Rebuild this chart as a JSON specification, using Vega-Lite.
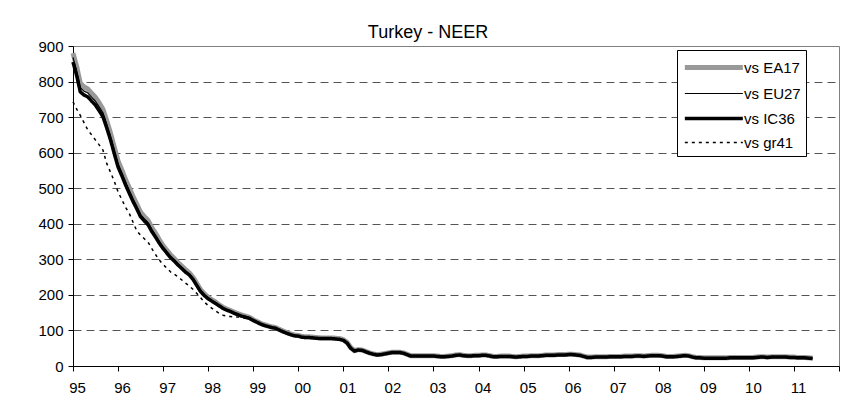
{
"$schema":"https://vega.github.io/schema/vega-lite/v6.json",
"autosize":{"type":"none"},
"width":766,"height":320,
"padding":{"left":73,"top":46,"right":17,"bottom":49},
"background":"white",
"title":{"text":"Turkey - NEER","font":"Liberation Sans","fontSize":18,"fontWeight":"normal","color":"black","anchor":"middle","dx":-28,"dy":7,"offset":4},
"data":{"values":[
{"d":"1995-01-01","EA17":880,"EU27":868,"IC36":855,"gr41":743},
{"d":"1995-02-01","EA17":840,"EU27":827,"IC36":815,"gr41":722},
{"d":"1995-03-01","EA17":795,"EU27":783,"IC36":771,"gr41":705},
{"d":"1995-04-01","EA17":785,"EU27":773,"IC36":762,"gr41":684},
{"d":"1995-05-01","EA17":779,"EU27":768,"IC36":757,"gr41":664},
{"d":"1995-06-01","EA17":767,"EU27":756,"IC36":745,"gr41":650},
{"d":"1995-07-01","EA17":756,"EU27":745,"IC36":734,"gr41":636},
{"d":"1995-08-01","EA17":740,"EU27":729,"IC36":718,"gr41":622},
{"d":"1995-09-01","EA17":722,"EU27":712,"IC36":701,"gr41":607},
{"d":"1995-10-01","EA17":690,"EU27":680,"IC36":670,"gr41":570},
{"d":"1995-11-01","EA17":655,"EU27":646,"IC36":636,"gr41":545},
{"d":"1995-12-01","EA17":616,"EU27":607,"IC36":598,"gr41":520},
{"d":"1996-01-01","EA17":577,"EU27":568,"IC36":560,"gr41":490},
{"d":"1996-02-01","EA17":551,"EU27":543,"IC36":535,"gr41":468},
{"d":"1996-03-01","EA17":525,"EU27":518,"IC36":510,"gr41":447},
{"d":"1996-04-01","EA17":501,"EU27":493,"IC36":486,"gr41":429},
{"d":"1996-05-01","EA17":477,"EU27":470,"IC36":463,"gr41":405},
{"d":"1996-06-01","EA17":455,"EU27":449,"IC36":442,"gr41":380},
{"d":"1996-07-01","EA17":433,"EU27":426,"IC36":420,"gr41":368},
{"d":"1996-08-01","EA17":420,"EU27":414,"IC36":408,"gr41":358},
{"d":"1996-09-01","EA17":409,"EU27":403,"IC36":397,"gr41":348},
{"d":"1996-10-01","EA17":389,"EU27":384,"IC36":378,"gr41":330},
{"d":"1996-11-01","EA17":373,"EU27":367,"IC36":362,"gr41":313},
{"d":"1996-12-01","EA17":355,"EU27":350,"IC36":345,"gr41":298},
{"d":"1997-01-01","EA17":338,"EU27":334,"IC36":330,"gr41":285},
{"d":"1997-02-01","EA17":325,"EU27":321,"IC36":317,"gr41":275},
{"d":"1997-03-01","EA17":313,"EU27":309,"IC36":305,"gr41":265},
{"d":"1997-04-01","EA17":302,"EU27":299,"IC36":295,"gr41":258},
{"d":"1997-05-01","EA17":291,"EU27":287,"IC36":284,"gr41":251},
{"d":"1997-06-01","EA17":281,"EU27":277,"IC36":274,"gr41":242},
{"d":"1997-07-01","EA17":271,"EU27":267,"IC36":264,"gr41":233},
{"d":"1997-08-01","EA17":262,"EU27":259,"IC36":256,"gr41":225},
{"d":"1997-09-01","EA17":249,"EU27":246,"IC36":243,"gr41":215},
{"d":"1997-10-01","EA17":232,"EU27":229,"IC36":226,"gr41":204},
{"d":"1997-11-01","EA17":214,"EU27":211,"IC36":209,"gr41":192},
{"d":"1997-12-01","EA17":203,"EU27":200,"IC36":198,"gr41":180},
{"d":"1998-01-01","EA17":193,"EU27":191,"IC36":189,"gr41":170},
{"d":"1998-02-01","EA17":186,"EU27":184,"IC36":182,"gr41":162},
{"d":"1998-03-01","EA17":180,"EU27":178,"IC36":176,"gr41":155},
{"d":"1998-04-01","EA17":172,"EU27":171,"IC36":169,"gr41":148},
{"d":"1998-05-01","EA17":165,"EU27":164,"IC36":162,"gr41":143},
{"d":"1998-06-01","EA17":160,"EU27":159,"IC36":157,"gr41":140},
{"d":"1998-07-01","EA17":156,"EU27":155,"IC36":153,"gr41":139},
{"d":"1998-08-01","EA17":151,"EU27":150,"IC36":148,"gr41":138},
{"d":"1998-09-01","EA17":147,"EU27":146,"IC36":144,"gr41":138},
{"d":"1998-10-01","EA17":143,"EU27":142,"IC36":140,"gr41":136},
{"d":"1998-11-01","EA17":140,"EU27":139,"IC36":137,"gr41":134},
{"d":"1998-12-01","EA17":137,"EU27":136,"IC36":134,"gr41":131},
{"d":"1999-01-01","EA17":130,"EU27":129,"IC36":128,"gr41":127},
{"d":"1999-02-01","EA17":125,"EU27":124,"IC36":123,"gr41":122},
{"d":"1999-03-01","EA17":120,"EU27":119,"IC36":118,"gr41":117},
{"d":"1999-04-01","EA17":116,"EU27":115,"IC36":114,"gr41":113},
{"d":"1999-05-01","EA17":113,"EU27":112,"IC36":111,"gr41":110},
{"d":"1999-06-01","EA17":110,"EU27":109,"IC36":108,"gr41":107},
{"d":"1999-07-01","EA17":108,"EU27":107,"IC36":106,"gr41":105},
{"d":"1999-08-01","EA17":103,"EU27":102,"IC36":101,"gr41":100},
{"d":"1999-09-01","EA17":98,"EU27":97,"IC36":96,"gr41":95},
{"d":"1999-10-01","EA17":94,"EU27":93,"IC36":92,"gr41":91},
{"d":"1999-11-01","EA17":90,"EU27":89,"IC36":88,"gr41":87},
{"d":"1999-12-01","EA17":87,"EU27":86,"IC36":85,"gr41":84},
{"d":"2000-01-01","EA17":86,"EU27":85,"IC36":84,"gr41":83},
{"d":"2000-02-01","EA17":83,"EU27":82,"IC36":81,"gr41":80},
{"d":"2000-03-01","EA17":82,"EU27":81,"IC36":80,"gr41":79},
{"d":"2000-04-01","EA17":82,"EU27":81,"IC36":80,"gr41":79},
{"d":"2000-05-01","EA17":81,"EU27":80,"IC36":79,"gr41":78},
{"d":"2000-06-01","EA17":80,"EU27":79,"IC36":78,"gr41":77},
{"d":"2000-07-01","EA17":79,"EU27":78,"IC36":77,"gr41":76},
{"d":"2000-08-01","EA17":79,"EU27":78,"IC36":77,"gr41":76},
{"d":"2000-09-01","EA17":79,"EU27":78,"IC36":77,"gr41":76},
{"d":"2000-10-01","EA17":79,"EU27":78,"IC36":77,"gr41":76},
{"d":"2000-11-01","EA17":78,"EU27":77,"IC36":76,"gr41":75},
{"d":"2000-12-01","EA17":77,"EU27":76,"IC36":75,"gr41":74},
{"d":"2001-01-01","EA17":74,"EU27":73,"IC36":72,"gr41":71},
{"d":"2001-02-01","EA17":66,"EU27":65,"IC36":64,"gr41":63},
{"d":"2001-03-01","EA17":52,"EU27":51,"IC36":50,"gr41":49},
{"d":"2001-04-01","EA17":43,"EU27":42.5,"IC36":42,"gr41":41.5},
{"d":"2001-05-01","EA17":46,"EU27":45.5,"IC36":45,"gr41":44.5},
{"d":"2001-06-01","EA17":45,"EU27":44.5,"IC36":44,"gr41":43.5},
{"d":"2001-07-01","EA17":41,"EU27":40.5,"IC36":40,"gr41":39.5},
{"d":"2001-08-01","EA17":37,"EU27":36.5,"IC36":36,"gr41":35.5},
{"d":"2001-09-01","EA17":34,"EU27":33.5,"IC36":33,"gr41":32.5},
{"d":"2001-10-01","EA17":32,"EU27":31.5,"IC36":31,"gr41":30.5},
{"d":"2001-11-01","EA17":33,"EU27":32.5,"IC36":32,"gr41":31.5},
{"d":"2001-12-01","EA17":35,"EU27":34.5,"IC36":34,"gr41":33.5},
{"d":"2002-01-01","EA17":37,"EU27":36.5,"IC36":36,"gr41":35.5},
{"d":"2002-02-01","EA17":39,"EU27":38.5,"IC36":38,"gr41":37.5},
{"d":"2002-03-01","EA17":39,"EU27":38.5,"IC36":38,"gr41":37.5},
{"d":"2002-04-01","EA17":39,"EU27":38.5,"IC36":38,"gr41":37.5},
{"d":"2002-05-01","EA17":37,"EU27":36.5,"IC36":36,"gr41":35.5},
{"d":"2002-06-01","EA17":33,"EU27":32.5,"IC36":32,"gr41":31.5},
{"d":"2002-07-01","EA17":29,"EU27":28.5,"IC36":28,"gr41":27.5},
{"d":"2002-08-01","EA17":29,"EU27":28.5,"IC36":28,"gr41":27.5},
{"d":"2002-09-01","EA17":29,"EU27":28.5,"IC36":28,"gr41":27.5},
{"d":"2002-10-01","EA17":29,"EU27":28.5,"IC36":28,"gr41":27.5},
{"d":"2002-11-01","EA17":29,"EU27":28.5,"IC36":28,"gr41":27.5},
{"d":"2002-12-01","EA17":29,"EU27":28.5,"IC36":28,"gr41":27.5},
{"d":"2003-01-01","EA17":29,"EU27":28.5,"IC36":28,"gr41":27.5},
{"d":"2003-02-01","EA17":28,"EU27":27.5,"IC36":27,"gr41":26.5},
{"d":"2003-03-01","EA17":27,"EU27":26.5,"IC36":26,"gr41":25.5},
{"d":"2003-04-01","EA17":27,"EU27":26.5,"IC36":26,"gr41":25.5},
{"d":"2003-05-01","EA17":28,"EU27":27.5,"IC36":27,"gr41":26.5},
{"d":"2003-06-01","EA17":29,"EU27":28.5,"IC36":28,"gr41":27.5},
{"d":"2003-07-01","EA17":31,"EU27":30.5,"IC36":30,"gr41":29.5},
{"d":"2003-08-01","EA17":32,"EU27":31.5,"IC36":31,"gr41":30.5},
{"d":"2003-09-01","EA17":30,"EU27":29.5,"IC36":29,"gr41":28.5},
{"d":"2003-10-01","EA17":29,"EU27":28.5,"IC36":28,"gr41":27.5},
{"d":"2003-11-01","EA17":29,"EU27":28.5,"IC36":28,"gr41":27.5},
{"d":"2003-12-01","EA17":30,"EU27":29.5,"IC36":29,"gr41":28.5},
{"d":"2004-01-01","EA17":30,"EU27":29.5,"IC36":29,"gr41":28.5},
{"d":"2004-02-01","EA17":31,"EU27":30.5,"IC36":30,"gr41":29.5},
{"d":"2004-03-01","EA17":31,"EU27":30.5,"IC36":30,"gr41":29.5},
{"d":"2004-04-01","EA17":29,"EU27":28.5,"IC36":28,"gr41":27.5},
{"d":"2004-05-01","EA17":27,"EU27":26.5,"IC36":26,"gr41":25.5},
{"d":"2004-06-01","EA17":27,"EU27":26.5,"IC36":26,"gr41":25.5},
{"d":"2004-07-01","EA17":28,"EU27":27.5,"IC36":27,"gr41":26.5},
{"d":"2004-08-01","EA17":28,"EU27":27.5,"IC36":27,"gr41":26.5},
{"d":"2004-09-01","EA17":28,"EU27":27.5,"IC36":27,"gr41":26.5},
{"d":"2004-10-01","EA17":27,"EU27":26.5,"IC36":26,"gr41":25.5},
{"d":"2004-11-01","EA17":26,"EU27":25.5,"IC36":25,"gr41":24.5},
{"d":"2004-12-01","EA17":27,"EU27":26.5,"IC36":26,"gr41":25.5},
{"d":"2005-01-01","EA17":28,"EU27":27.5,"IC36":27,"gr41":26.5},
{"d":"2005-02-01","EA17":28,"EU27":27.5,"IC36":27,"gr41":26.5},
{"d":"2005-03-01","EA17":29,"EU27":28.5,"IC36":28,"gr41":27.5},
{"d":"2005-04-01","EA17":29,"EU27":28.5,"IC36":28,"gr41":27.5},
{"d":"2005-05-01","EA17":29,"EU27":28.5,"IC36":28,"gr41":27.5},
{"d":"2005-06-01","EA17":30,"EU27":29.5,"IC36":29,"gr41":28.5},
{"d":"2005-07-01","EA17":31,"EU27":30.5,"IC36":30,"gr41":29.5},
{"d":"2005-08-01","EA17":31,"EU27":30.5,"IC36":30,"gr41":29.5},
{"d":"2005-09-01","EA17":31,"EU27":30.5,"IC36":30,"gr41":29.5},
{"d":"2005-10-01","EA17":32,"EU27":31.5,"IC36":31,"gr41":30.5},
{"d":"2005-11-01","EA17":32,"EU27":31.5,"IC36":31,"gr41":30.5},
{"d":"2005-12-01","EA17":32,"EU27":31.5,"IC36":31,"gr41":30.5},
{"d":"2006-01-01","EA17":33,"EU27":32.5,"IC36":32,"gr41":31.5},
{"d":"2006-02-01","EA17":33,"EU27":32.5,"IC36":32,"gr41":31.5},
{"d":"2006-03-01","EA17":32,"EU27":31.5,"IC36":31,"gr41":30.5},
{"d":"2006-04-01","EA17":31,"EU27":30.5,"IC36":30,"gr41":29.5},
{"d":"2006-05-01","EA17":28,"EU27":27.5,"IC36":27,"gr41":26.5},
{"d":"2006-06-01","EA17":25,"EU27":24.5,"IC36":24,"gr41":23.5},
{"d":"2006-07-01","EA17":25,"EU27":24.5,"IC36":24,"gr41":23.5},
{"d":"2006-08-01","EA17":26,"EU27":25.5,"IC36":25,"gr41":24.5},
{"d":"2006-09-01","EA17":26,"EU27":25.5,"IC36":25,"gr41":24.5},
{"d":"2006-10-01","EA17":26,"EU27":25.5,"IC36":25,"gr41":24.5},
{"d":"2006-11-01","EA17":26,"EU27":25.5,"IC36":25,"gr41":24.5},
{"d":"2006-12-01","EA17":27,"EU27":26.5,"IC36":26,"gr41":25.5},
{"d":"2007-01-01","EA17":27,"EU27":26.5,"IC36":26,"gr41":25.5},
{"d":"2007-02-01","EA17":27,"EU27":26.5,"IC36":26,"gr41":25.5},
{"d":"2007-03-01","EA17":27,"EU27":26.5,"IC36":26,"gr41":25.5},
{"d":"2007-04-01","EA17":28,"EU27":27.5,"IC36":27,"gr41":26.5},
{"d":"2007-05-01","EA17":28,"EU27":27.5,"IC36":27,"gr41":26.5},
{"d":"2007-06-01","EA17":28,"EU27":27.5,"IC36":27,"gr41":26.5},
{"d":"2007-07-01","EA17":29,"EU27":28.5,"IC36":28,"gr41":27.5},
{"d":"2007-08-01","EA17":29,"EU27":28.5,"IC36":28,"gr41":27.5},
{"d":"2007-09-01","EA17":28,"EU27":27.5,"IC36":27,"gr41":26.5},
{"d":"2007-10-01","EA17":29,"EU27":28.5,"IC36":28,"gr41":27.5},
{"d":"2007-11-01","EA17":30,"EU27":29.5,"IC36":29,"gr41":28.5},
{"d":"2007-12-01","EA17":30,"EU27":29.5,"IC36":29,"gr41":28.5},
{"d":"2008-01-01","EA17":30,"EU27":29.5,"IC36":29,"gr41":28.5},
{"d":"2008-02-01","EA17":29,"EU27":28.5,"IC36":28,"gr41":27.5},
{"d":"2008-03-01","EA17":27,"EU27":26.5,"IC36":26,"gr41":25.5},
{"d":"2008-04-01","EA17":27,"EU27":26.5,"IC36":26,"gr41":25.5},
{"d":"2008-05-01","EA17":27,"EU27":26.5,"IC36":26,"gr41":25.5},
{"d":"2008-06-01","EA17":28,"EU27":27.5,"IC36":27,"gr41":26.5},
{"d":"2008-07-01","EA17":29,"EU27":28.5,"IC36":28,"gr41":27.5},
{"d":"2008-08-01","EA17":30,"EU27":29.5,"IC36":29,"gr41":28.5},
{"d":"2008-09-01","EA17":29,"EU27":28.5,"IC36":28,"gr41":27.5},
{"d":"2008-10-01","EA17":26,"EU27":25.5,"IC36":25,"gr41":24.5},
{"d":"2008-11-01","EA17":24,"EU27":23.5,"IC36":23,"gr41":22.5},
{"d":"2008-12-01","EA17":24,"EU27":23.5,"IC36":23,"gr41":22.5},
{"d":"2009-01-01","EA17":23,"EU27":22.5,"IC36":22,"gr41":21.5},
{"d":"2009-02-01","EA17":23,"EU27":22.5,"IC36":22,"gr41":21.5},
{"d":"2009-03-01","EA17":23,"EU27":22.5,"IC36":22,"gr41":21.5},
{"d":"2009-04-01","EA17":23,"EU27":22.5,"IC36":22,"gr41":21.5},
{"d":"2009-05-01","EA17":23,"EU27":22.5,"IC36":22,"gr41":21.5},
{"d":"2009-06-01","EA17":23,"EU27":22.5,"IC36":22,"gr41":21.5},
{"d":"2009-07-01","EA17":23,"EU27":22.5,"IC36":22,"gr41":21.5},
{"d":"2009-08-01","EA17":24,"EU27":23.5,"IC36":23,"gr41":22.5},
{"d":"2009-09-01","EA17":24,"EU27":23.5,"IC36":23,"gr41":22.5},
{"d":"2009-10-01","EA17":24,"EU27":23.5,"IC36":23,"gr41":22.5},
{"d":"2009-11-01","EA17":24,"EU27":23.5,"IC36":23,"gr41":22.5},
{"d":"2009-12-01","EA17":24,"EU27":23.5,"IC36":23,"gr41":22.5},
{"d":"2010-01-01","EA17":24,"EU27":23.5,"IC36":23,"gr41":22.5},
{"d":"2010-02-01","EA17":24,"EU27":23.5,"IC36":23,"gr41":22.5},
{"d":"2010-03-01","EA17":25,"EU27":24.5,"IC36":24,"gr41":23.5},
{"d":"2010-04-01","EA17":26,"EU27":25.5,"IC36":25,"gr41":24.5},
{"d":"2010-05-01","EA17":26,"EU27":25.5,"IC36":25,"gr41":24.5},
{"d":"2010-06-01","EA17":25,"EU27":24.5,"IC36":24,"gr41":23.5},
{"d":"2010-07-01","EA17":26,"EU27":25.5,"IC36":25,"gr41":24.5},
{"d":"2010-08-01","EA17":26,"EU27":25.5,"IC36":25,"gr41":24.5},
{"d":"2010-09-01","EA17":26,"EU27":25.5,"IC36":25,"gr41":24.5},
{"d":"2010-10-01","EA17":26,"EU27":25.5,"IC36":25,"gr41":24.5},
{"d":"2010-11-01","EA17":26,"EU27":25.5,"IC36":25,"gr41":24.5},
{"d":"2010-12-01","EA17":25,"EU27":24.5,"IC36":24,"gr41":23.5},
{"d":"2011-01-01","EA17":25,"EU27":24.5,"IC36":24,"gr41":23.5},
{"d":"2011-02-01","EA17":24,"EU27":23.5,"IC36":23,"gr41":22.5},
{"d":"2011-03-01","EA17":24,"EU27":23.5,"IC36":23,"gr41":22.5},
{"d":"2011-04-01","EA17":24,"EU27":23.5,"IC36":23,"gr41":22.5},
{"d":"2011-05-01","EA17":23,"EU27":22.5,"IC36":22,"gr41":21.5},
{"d":"2011-06-01","EA17":22,"EU27":21.5,"IC36":21,"gr41":20.5}
]},
"transform":[{"fold":["EA17","IC36","EU27","gr41"],"as":["series","value"]}],
"mark":{"type":"line","strokeJoin":"round","strokeCap":"butt"},
"encoding":{
"x":{"field":"d","type":"temporal",
"scale":{"type":"utc","domain":[{"year":1995,"month":1,"date":1,"utc":true},{"year":2012,"month":1,"date":1,"utc":true}]},
"axis":{"title":null,"tickCount":{"interval":"year","step":1},"labelExpr":"utcyear(datum.value) >= 2012 ? '' : utcFormat(datum.value, '%y')","labelFont":"Liberation Sans","labelFontSize":15,"labelColor":"black","labelOffset":4,"labelPadding":9,"labelOverlap":false,"labelFlush":false,"domainColor":"black","domainWidth":1,"tickColor":"black","tickSize":5,"grid":false}},
"y":{"field":"value","type":"quantitative",
"scale":{"domain":[0,900],"nice":false,"zero":true},
"axis":{"title":null,"values":[0,100,200,300,400,500,600,700,800,900],"labelFont":"Liberation Sans","labelFontSize":15,"labelColor":"black","labelPadding":5,"domainColor":"black","domainWidth":1,"tickColor":"black","tickSize":5,"grid":true,"gridColor":"#555555","gridDash":[8,5],"gridWidth":1,"gridOpacity":{"condition":{"test":"datum.value == 0 || datum.value == 900","value":0},"value":1}}},
"color":{"field":"series","type":"nominal","scale":{"domain":["EA17","EU27","IC36","gr41"],"range":["#999999","#000000","#000000","#000000"]},
"legend":{"title":null,"orient":"none","legendX":604,"legendY":4,"labelExpr":"'vs ' + datum.label","symbolType":"M-1,0H5","symbolSize":374,"labelFont":"Liberation Sans","labelFontSize":15,"labelColor":"black","labelOffset":37,"rowPadding":5,"padding":5,"strokeColor":"black","fillColor":"white"}},
"strokeWidth":{"field":"series","type":"nominal","scale":{"type":"ordinal","domain":["EA17","EU27","IC36","gr41"],"range":[5,1.2,3.5,1.5]},
"legend":{"title":null,"orient":"none","legendX":604,"legendY":4,"labelExpr":"'vs ' + datum.label","symbolType":"M-1,0H5","symbolSize":374,"labelFont":"Liberation Sans","labelFontSize":15,"labelColor":"black","labelOffset":37,"rowPadding":5,"padding":5,"strokeColor":"black","fillColor":"white"}},
"strokeDash":{"field":"series","type":"nominal","scale":{"domain":["EA17","EU27","IC36","gr41"],"range":[[1,0],[1,0],[1,0],[3,4]]},
"legend":{"title":null,"orient":"none","legendX":604,"legendY":4,"labelExpr":"'vs ' + datum.label","symbolType":"M-1,0H5","symbolSize":374,"labelFont":"Liberation Sans","labelFontSize":15,"labelColor":"black","labelOffset":37,"rowPadding":5,"padding":5,"strokeColor":"black","fillColor":"white"}}
},
"config":{"view":{"stroke":"#808080","strokeWidth":1}}
}
